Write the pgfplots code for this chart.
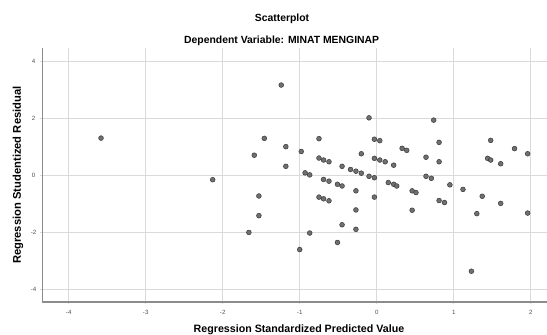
\documentclass[border=0pt]{standalone}
\usepackage{fontspec}
\setmainfont{Liberation Sans}
\usepackage{pgfplots}
\pgfplotsset{compat=1.18}
\definecolor{gridc}{RGB}{218,218,218}
\definecolor{axc}{RGB}{140,140,140}
\definecolor{mfill}{RGB}{112,112,112}
\definecolor{medge}{RGB}{60,60,60}
\definecolor{tickc}{RGB}{80,80,80}
\begin{document}
\begin{tikzpicture}
\path[use as bounding box] (-31.7pt,-24pt) rectangle (378.5pt,226.5pt);
\begin{axis}[
  at={(0,0)}, anchor=south west,
  scale only axis, width=379pt, height=190.3pt,
  xmin=-4.343, xmax=2.22, ymin=-4.45, ymax=4.45,
  axis lines*=left,
  axis line style={draw=axc, line width=0.9pt},
  xtick={-4,-3,-2,-1,0,1,2}, ytick={-4,-2,0,2,4},
  grid=major,
  major grid style={draw=gridc, line width=0.75pt},
  tick style={draw=gridc, line width=0.75pt},
  major tick length=1.5pt, tick align=outside,
  /pgf/number format/assume math mode=true,
  xticklabel style={font=\fontsize{4.6}{5}\selectfont, text=tickc, anchor=center, inner sep=0pt, yshift=-6pt},
  yticklabel style={font=\fontsize{4.6}{5}\selectfont, text=tickc, anchor=center, inner sep=0pt, xshift=-5pt},
  clip=false,
]
\addplot[only marks, mark=*, mark size=1.8pt, mark options={fill=mfill, draw=medge, line width=0.4pt}] coordinates {
(-3.58,1.30) (-2.13,-0.16) (-1.46,1.29) (-1.59,0.70) (-1.53,-0.73) (-1.53,-1.42) (-1.66,-2.01)
(-1.24,3.16) (-1.18,1.00) (-1.18,0.31) (-0.98,0.83) (-0.93,0.08) (-0.87,0.01) (-1.00,-2.61)
(-0.87,-2.03) (-0.75,1.28) (-0.75,0.60) (-0.69,0.53) (-0.62,0.47) (-0.69,-0.15) (-0.62,-0.21)
(-0.75,-0.77) (-0.69,-0.83) (-0.62,-0.90) (-0.51,-0.32) (-0.45,-0.38) (-0.45,0.31) (-0.34,0.20)
(-0.27,0.14) (-0.20,0.07) (-0.20,0.75) (-0.27,-0.55) (-0.27,-1.22) (-0.27,-1.90) (-0.45,-1.74)
(-0.51,-2.36) (-0.10,2.01) (-0.03,1.26) (0.04,1.21) (-0.03,0.59) (0.04,0.53) (0.11,0.47)
(-0.10,-0.04) (-0.03,-0.09) (-0.03,-0.77) (0.22,0.35) (0.15,-0.26) (0.22,-0.32) (0.26,-0.38)
(0.33,0.94) (0.39,0.87) (0.46,-0.55) (0.51,-0.61) (0.46,-1.23) (0.64,0.63) (0.64,-0.04)
(0.71,-0.11) (0.74,1.93) (0.81,1.15) (0.81,0.47) (0.81,-0.89) (0.88,-0.96) (0.95,-0.34)
(1.12,-0.50) (1.23,-3.37) (1.30,-1.35) (1.37,-0.74) (1.44,0.59) (1.48,0.53) (1.48,1.22)
(1.61,0.40) (1.61,-0.99) (1.79,0.93) (1.96,0.75) (1.96,-1.33)
};
\end{axis}
\node[font=\bfseries\fontsize{7.8}{9}\selectfont, inner sep=0pt] at (179.8pt,212.3pt) {Scatterplot};
\node[font=\bfseries\fontsize{7.8}{9}\selectfont, inner sep=0pt] at (179.5pt,196pt) {Dependent Variable: MINAT MENGINAP};
\node[font=\bfseries\fontsize{8}{9}\selectfont, inner sep=0pt, anchor=base] at (192.5pt,-22.9pt) {Regression Standardized Predicted Value};
\node[font=\bfseries\fontsize{8.4}{9}\selectfont, inner sep=0pt, rotate=90] at (-18.2pt,95.2pt) {Regression Studentized Residual};
\end{tikzpicture}
\end{document}
